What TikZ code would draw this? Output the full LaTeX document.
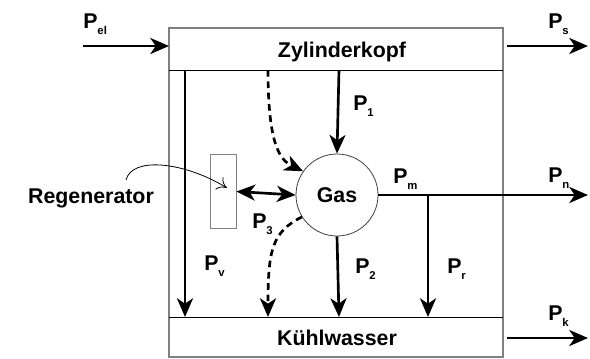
\documentclass[tikz,border=0pt]{standalone}
\usepackage{fontspec}
\setmainfont{Liberation Sans}
\usetikzlibrary{arrows.meta,positioning}

\newcommand{\Psub}[1]{P\raisebox{-4.5pt}{\fontsize{8.5}{8.5}\selectfont\bfseries #1}}

\begin{document}
\begin{tikzpicture}[x=0.75pt,y=-0.75pt,
  every node/.style={font=\fontsize{16}{18}\selectfont\bfseries},
  lbl/.style={anchor=base west,inner sep=0pt},
  flow/.style={line width=2pt,-{Stealth[length=14pt,width=12pt,inset=4pt]}},
  twoway/.style={line width=2pt,{Stealth[length=14pt,width=12pt,inset=4pt]}-{Stealth[length=14pt,width=12pt,inset=4pt]}},
  loss/.style={flow,dash pattern=on 5pt off 3.5pt}]
\useasboundingbox (0,0) rectangle (590,358);

% frame with Zylinderkopf and Kuehlwasser
\draw[gray,line width=0.8pt] (169,28) rectangle (503,357);
\draw[line width=0.6pt] (169,70) -- (503,70);
\draw[line width=0.6pt] (169,317) -- (503,317);
\node[anchor=base] (kopf) at (342,57) {Zylinderkopf};
\node[anchor=base] (wasser) at (337,345) {Kühlwasser};

\node[circle,draw=gray!50!black,line width=0.6pt,minimum size=61.5pt,inner sep=0pt] (gas) at (337,195) {Gas};
\node[draw=gray,line width=0.7pt,minimum width=19.5pt,minimum height=56pt,inner sep=0pt] (regen) at (223,191.5) {};
\node[anchor=base] (regtext) at (91,203) {Regenerator};

\coordinate (elin) at (83,46);
\coordinate (elout) at (169,46);
\coordinate (sin) at (507,46);
\coordinate (sout) at (588,46);
\coordinate (kin) at (507,338);
\coordinate (kout) at (588,338);
\coordinate (nout) at (588,195);
\coordinate (rtop) at (428,195);
\coordinate (rbot) at (428,317);
\coordinate (vtop) at (185,70);
\coordinate (vbot) at (185,317);
\coordinate (onetop) at (339,70);
\coordinate (twobot) at (339,317);
\coordinate (dtop) at (268,70);
\coordinate (dbot) at (268,317);
\coordinate (regtip) at (227,188);

\draw[flow] (elin) -- (elout);
\draw[flow] (sin) -- (sout);
\draw[flow] (kin) -- (kout);
\draw[flow] (onetop) -- (gas.north);
\draw[flow] (gas.south) -- (twobot);
\draw[flow] (gas.east) -- (nout);
\draw[flow] (rtop) -- (rbot);
\draw[flow] (vtop) -- (vbot);
\draw[twoway] (regen.east) -- (gas.west);
\draw[loss] (dtop) .. controls (268,145) and (280,160) .. (gas.145);
\draw[loss] (gas.212) .. controls (272,232) and (268,250) .. (dbot);
\draw[line width=0.6pt,-{To[length=7pt,width=11pt]}] (126,180) .. controls (132,156) and (185,162) .. (regtip);

\node[lbl] (pel) at (83,28) {\Psub{el}};
\node[lbl] (ps) at (548,28) {\Psub{s}};
\node[lbl] (p1) at (353,110) {\Psub{1}};
\node[lbl] (pm) at (393,183) {\Psub{m}};
\node[lbl] (pn) at (548,182) {\Psub{n}};
\node[lbl] (p3) at (252,228) {\Psub{3}};
\node[lbl] (pv) at (204,270) {\Psub{v}};
\node[lbl] (p2) at (355,273) {\Psub{2}};
\node[lbl] (pr) at (447,273) {\Psub{r}};
\node[lbl] (pk) at (548,320) {\Psub{k}};
\end{tikzpicture}
\end{document}
